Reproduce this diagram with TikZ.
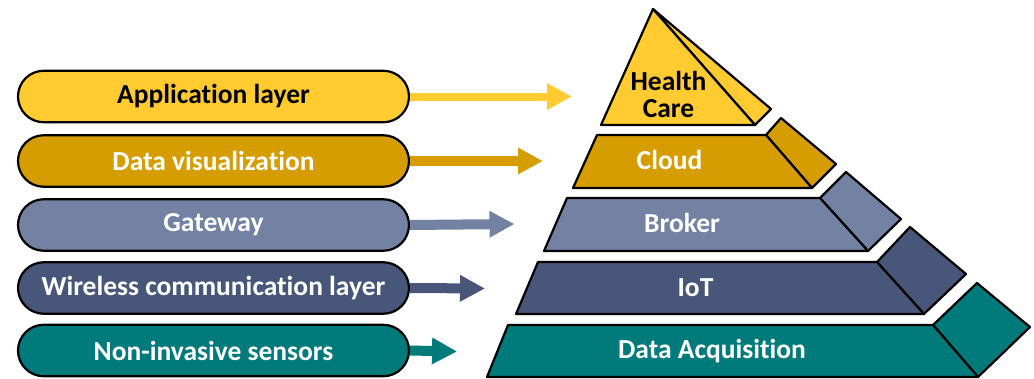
\documentclass[tikz,border=0pt]{standalone}
\usepackage{fontspec}
\setmainfont{Carlito}[Ligatures=NoCommon]
\usetikzlibrary{shapes.misc,arrows.meta}
\definecolor{appY}{HTML}{FFCB31}
\definecolor{visG}{HTML}{D59D00}
\definecolor{gwS}{HTML}{7382A3}
\definecolor{wlN}{HTML}{485779}
\definecolor{nsT}{HTML}{007A7A}
\begin{document}
\begin{tikzpicture}[x=1pt,y=-1pt,
  txt/.style={font=\fontsize{27.5}{27}\selectfont\bfseries},
  pill/.style={rounded rectangle, draw=black, line width=2.2pt,
    minimum width=391pt, minimum height=51.5pt, inner sep=0pt, txt, text=white},
  face/.style={draw=black, line width=2.2pt, line join=round},
  lbl/.style={txt, text=white, inner sep=0pt, align=center},
  blk/.style={line width=#1, -{Triangle[length=25pt,width=25pt]}},
  blk/.default=10pt]
\useasboundingbox (0,0) rectangle (1034,378);

% layer names on the left
\node[pill, fill=appY, text=black] (app) at (213.5,96.5) {Application layer};
\node[pill, fill=visG] (vis) at (213.5,161) {Data visualization};
\node[pill, fill=gwS]  (gw)  at (213.5,225) {Gateway};
\node[pill, fill=wlN]  (wl)  at (213.5,288) {Wireless communication layer};
\node[pill, fill=nsT]  (ns)  at (213.5,350.5) {Non-invasive sensors};

% arrow tips in front of the pyramid
\coordinate (tapp) at (572,96.5);
\coordinate (tvis) at (543,161);
\coordinate (tgw)  at (514.5,224);
\coordinate (twl)  at (485,288.5);
\coordinate (tns)  at (457,351.5);

\draw[blk=8pt, draw=appY] (app.east) -- (tapp);
\draw[blk, draw=visG] (vis.east) -- (tvis);
\draw[blk, draw=gwS]  (gw.east)  -- (tgw);
\draw[blk, draw=wlN]  (wl.east)  -- (twl);
\draw[blk, draw=nsT]  (ns.east)  -- (tns);

% pyramid: top
\draw[face, fill=appY] (653,9) -- (771,109) -- (755,125) -- cycle;
\draw[face, fill=appY] (653,9) -- (601,125) -- (755,125) -- cycle;
% cloud slab
\draw[face, fill=visG] (766,135) -- (781,118) -- (836,164) -- (812,188) -- cycle;
\draw[face, fill=visG] (597,135) -- (766,135) -- (812,188) -- (573,188) -- cycle;
% broker slab
\draw[face, fill=gwS] (820,198) -- (846,172) -- (901,219) -- (868,251) -- cycle;
\draw[face, fill=gwS] (567,198) -- (820,198) -- (868,251) -- (544,251) -- cycle;
% IoT slab
\draw[face, fill=wlN] (877,262) -- (910,227) -- (966,274) -- (924,314) -- cycle;
\draw[face, fill=wlN] (538,262) -- (877,262) -- (924,314) -- (516,314) -- cycle;
% data acquisition slab
\draw[face, fill=nsT] (933,325) -- (977,283) -- (1030,327) -- (978,377) -- cycle;
\draw[face, fill=nsT] (508,325) -- (933,325) -- (978,377) -- (487,377) -- cycle;

% pyramid labels
\node[lbl, text=black] (hc) at (668.5,94.5) {Health\\Care};
\node[lbl] (cloud)  at (669.5,160) {Cloud};
\node[lbl] (broker) at (682,223) {Broker};
\node[lbl] (iot)    at (695.5,288) {IoT};
\node[lbl] (daq)    at (712,351) {Data Acquisition};
\end{tikzpicture}
\end{document}
